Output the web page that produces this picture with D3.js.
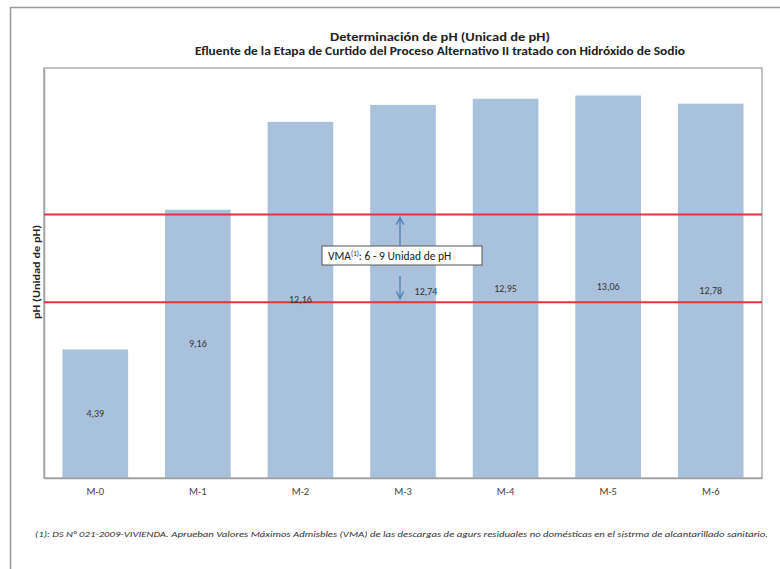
<!DOCTYPE html>
<html>
<head>
<meta charset="utf-8">
<script src="https://cdn.jsdelivr.net/npm/d3@7"></script>
<style>
  html, body { margin: 0; padding: 0; background: #fff; }
  svg { display: block; }
</style>
</head>
<body>
<svg id="chart" width="780" height="569"></svg>
<script>
// Muestras y valores de pH medidos
const categories = ["M-0", "M-1", "M-2", "M-3", "M-4", "M-5", "M-6"];
const phValues = [4.39, 9.16, 12.16, 12.74, 12.95, 13.06, 12.78];
const valueLabels = ["4,39", "9,16", "12,16", "12,74", "12,95", "13,06", "12,78"];
// Límites del VMA (6 - 9 unidades de pH)
const vmaLimits = [6, 9];
const yDomain = [0, 14];

const titleLines = [
  "Determinación de pH (Unicad de pH)",
  "Efluente de la Etapa de Curtido del Proceso Alternativo II tratado con Hidróxido de Sodio"
];
const yLabel = "pH (Unidad de pH)";
const footnote = "(1): DS N° 021-2009-VIVIENDA. Aprueban Valores Máximos Admisbles (VMA) de las descargas de agurs residuales no domésticas en el sistrma de alcantarillado sanitario.";

const svg = d3.select("#chart");
const font = "Carlito, 'Open Sans', 'Liberation Sans', sans-serif";

// Marco exterior (solo bordes superior e izquierdo)
svg.append("path")
  .attr("d", "M10.5,569 V7.5 H780")
  .attr("fill", "none").attr("stroke", "#9a9a9a").attr("stroke-width", 1.5);

const plot = { left: 44, right: 762, top: 68, bottom: 478 };

const x = d3.scaleBand().domain(categories)
  .range([plot.left, plot.right]).paddingInner(0.36).paddingOuter(0.18);
const y = d3.scaleLinear().domain(yDomain).range([plot.bottom, plot.top]);

// Barras
svg.append("g").selectAll("rect").data(phValues).join("rect")
  .attr("x", (d, i) => x(categories[i]))
  .attr("y", d => y(d))
  .attr("width", x.bandwidth())
  .attr("height", d => y(0) - y(d))
  .attr("fill", "#a9c1dc");

// Borde del área de trazado
svg.append("rect")
  .attr("x", plot.left).attr("y", plot.top)
  .attr("width", plot.right - plot.left).attr("height", plot.bottom - plot.top)
  .attr("fill", "none").attr("stroke", "#b0b0b0").attr("stroke-width", 1.5);

// Eje X
const xAxis = svg.append("g")
  .attr("transform", `translate(0,${plot.bottom})`)
  .call(d3.axisBottom(x).tickSize(0).tickPadding(10));
xAxis.select(".domain").attr("stroke", "#a0a0a0").attr("stroke-width", 1.5);
xAxis.selectAll("text")
  .attr("font-family", font).attr("font-size", 10.5).attr("fill", "#444");

// Eje Y (línea sin marcas)
const yAxis = svg.append("g")
  .attr("transform", `translate(${plot.left},0)`)
  .call(d3.axisLeft(y).tickValues([]).tickSize(0));
yAxis.select(".domain").attr("stroke", "#a0a0a0").attr("stroke-width", 1.5);

// Líneas de límite del VMA
svg.append("g").selectAll("line").data(vmaLimits).join("line")
  .attr("x1", plot.left).attr("x2", plot.right)
  .attr("y1", d => y(d)).attr("y2", d => y(d))
  .attr("stroke", "#e8323e").attr("stroke-width", 2);

// Etiquetas de valor (centradas en cada barra)
const labelShift = [0, 0, 0, 23, 0, 0, 0];
svg.append("g").selectAll("text").data(phValues).join("text")
  .attr("x", (d, i) => x(categories[i]) + x.bandwidth() / 2 + labelShift[i])
  .attr("y", d => (y(d) + y(0)) / 2)
  .attr("dy", "0.35em")
  .attr("text-anchor", "middle")
  .attr("font-family", font).attr("font-size", 10).attr("fill", "#333")
  .text((d, i) => valueLabels[i]);

// Flechas y recuadro del VMA
const defs = svg.append("defs");
defs.append("marker")
  .attr("id", "arrow").attr("viewBox", "0 0 10 10")
  .attr("refX", 9).attr("refY", 5)
  .attr("markerWidth", 7).attr("markerHeight", 7)
  .attr("orient", "auto-start-reverse")
  .append("path").attr("d", "M1,1 L9,5 L1,9")
  .attr("fill", "none").attr("stroke", "#4a7ebb").attr("stroke-width", 1.4);

const arrowX = 400;
svg.append("line")
  .attr("x1", arrowX).attr("x2", arrowX)
  .attr("y1", y(7.95)).attr("y2", y(8.9))
  .attr("stroke", "#4a7ebb").attr("stroke-width", 1.3)
  .attr("marker-end", "url(#arrow)");
svg.append("line")
  .attr("x1", arrowX).attr("x2", arrowX)
  .attr("y1", y(6.9)).attr("y2", y(6.12))
  .attr("stroke", "#4a7ebb").attr("stroke-width", 1.3)
  .attr("marker-end", "url(#arrow)");

svg.append("rect")
  .attr("x", 322).attr("y", 246).attr("width", 160).attr("height", 19)
  .attr("fill", "#fff").attr("stroke", "#555").attr("stroke-width", 1);
const vmaText = svg.append("text")
  .attr("x", 328).attr("y", 260)
  .attr("font-family", font).attr("font-size", 11.5).attr("fill", "#222");
vmaText.append("tspan").text("VMA");
vmaText.append("tspan").attr("font-size", 7).attr("dy", -4).text("(1)");
vmaText.append("tspan").attr("dy", 4).text(": 6 - 9 Unidad de pH");

// Título
svg.append("g").selectAll("text").data(titleLines).join("text")
  .attr("x", 440)
  .attr("y", (d, i) => 41 + i * 14)
  .attr("text-anchor", "middle")
  .attr("font-family", font).attr("font-weight", "bold")
  .attr("font-size", 12).attr("fill", "#222")
  .attr("textLength", (d, i) => [220, 490][i])
  .attr("lengthAdjust", "spacingAndGlyphs")
  .text(d => d);

// Título del eje Y
svg.append("text")
  .attr("transform", "translate(40,272) rotate(-90)")
  .attr("text-anchor", "middle")
  .attr("font-family", font).attr("font-weight", "bold")
  .attr("font-size", 10).attr("fill", "#222")
  .attr("textLength", 94).attr("lengthAdjust", "spacingAndGlyphs")
  .text(yLabel);

// Nota al pie
svg.append("text")
  .attr("x", 35).attr("y", 537)
  .attr("font-family", font).attr("font-style", "italic")
  .attr("font-size", 9).attr("fill", "#333")
  .attr("textLength", 733).attr("lengthAdjust", "spacingAndGlyphs")
  .text(footnote);
</script>
</body>
</html>
